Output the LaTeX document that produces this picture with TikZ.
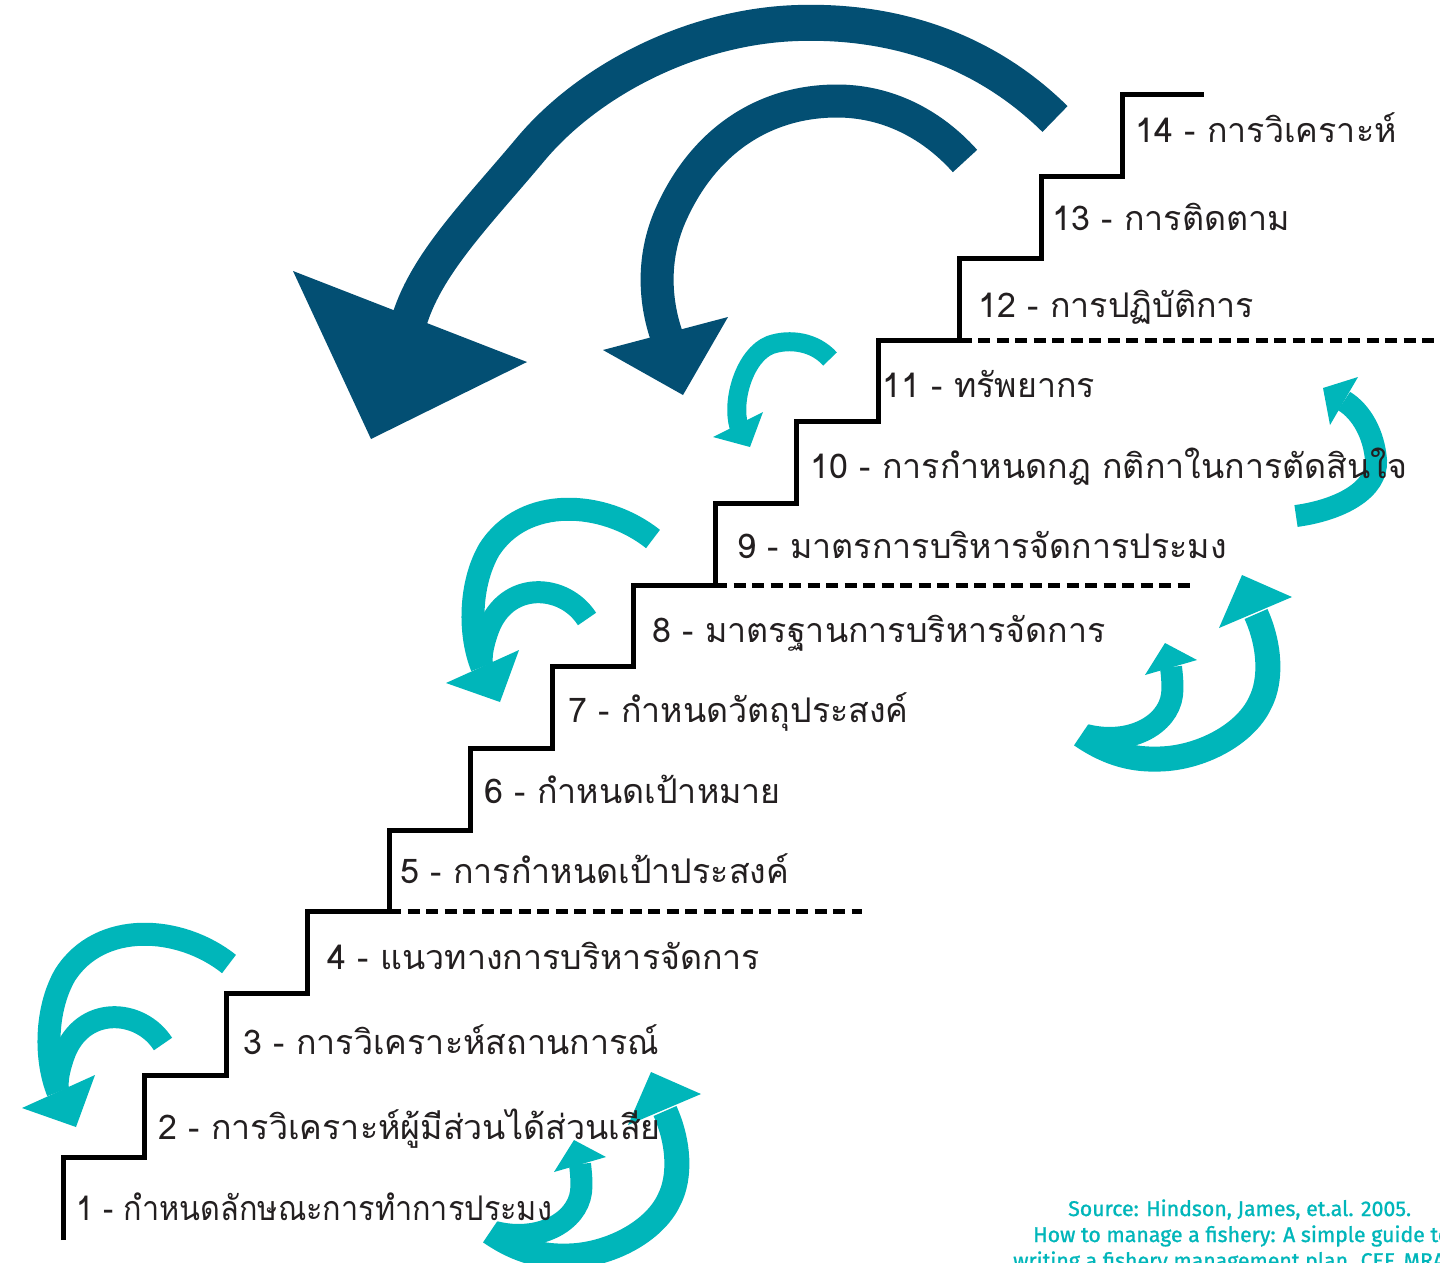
\documentclass[tikz,border=0pt]{standalone}
\usepackage{fontspec}
\newfontfamily\thaifont[Script=Thai]{Loma}
\newfontfamily\srcfont[FakeBold=1]{Fira Sans}
\definecolor{navyarrow}{HTML}{034F73}
\definecolor{tealarrow}{HTML}{00B6BA}
\definecolor{labeltext}{HTML}{231F20}
\tikzset{
  stair/.style={line width=5pt, black, line join=miter},
  dashline/.style={line width=5pt, black, dash pattern=on 12pt off 6.5pt},
  navyshaft/.style={draw=navyarrow, line width=#1},
  tealshaft/.style={draw=tealarrow, line width=#1},
  steplabel/.style={anchor=base west, inner sep=0pt, text=labeltext, font=\thaifont\fontsize{34}{40}\selectfont},
  srctext/.style={anchor=base west, inner sep=0pt, text=tealarrow, font=\srcfont\fontsize{21.3}{26}\selectfont},
}
\newcommand\LeftPairArrows{%
  \draw[tealshaft=23pt] (229,964) .. controls (180,925) and (100,920) .. (65,975) .. controls (45,1010) and (45,1060) .. (58,1092);
  \draw[tealshaft=22pt] (163,1044) .. controls (140,1008) and (82,1005) .. (64,1055) .. controls (58,1072) and (57,1082) .. (58,1090);
  \fill[tealarrow] (22,1108) -- (95,1075) -- (76,1127) -- cycle;
}
\newcommand\RightPairArrows{%
  \draw[tealshaft=25pt] (1081,735) .. controls (1110,755) and (1135,760) .. (1160,759) .. controls (1200,758) and (1245,735) .. (1260,703) .. controls (1272,680) and (1270,645) .. (1256,614);
  \draw[tealshaft=22pt] (1086,735) .. controls (1130,746) and (1168,725) .. (1172,695) .. controls (1173,685) and (1172,676) .. (1171,667);
  \fill[tealarrow] (1242,575) -- (1292,597) -- (1219,628) -- cycle;
  \fill[tealarrow] (1165,643) -- (1197,660) -- (1145,675) -- cycle;
}
\begin{document}
\begin{tikzpicture}[x=1pt, y=-1pt]
\useasboundingbox (0,0) rectangle (1440,1262);
\clip (0,0) rectangle (1440,1262);
\fill[white] (0,0) rectangle (1440,1262);

% navy arrows
\draw[navyshaft=36pt] (1055,119) .. controls (985,50) and (895,20) .. (798,23) .. controls (695,26) and (590,78) .. (530,150) .. controls (478,212) and (428,262) .. (410,318);
\fill[navyarrow] (293,271) -- (527,362) -- (371,439) -- cycle;
\draw[navyshaft=33pt] (965,161) .. controls (930,122) and (885,101) .. (837,101) .. controls (765,101) and (705,140) .. (672,212) .. controls (652,255) and (654,300) .. (667,337);
\fill[navyarrow] (603,350) -- (728,317) -- (683,395) -- cycle;

% small teal arrow
\draw[tealshaft=19pt] (830,359) .. controls (815,342) and (790,338) .. (770,345) .. controls (745,355) and (731,400) .. (739,427);
\fill[tealarrow] (713,437) -- (763,412) -- (750,447) -- cycle;

% top-right teal arrow
\draw[tealshaft=22pt] (1296,516) .. controls (1340,510) and (1378,490) .. (1376,460) .. controls (1374,435) and (1362,412) .. (1344,401);
\fill[tealarrow] (1323,388) -- (1358,377) -- (1330,425) -- cycle;

% teal pairs
\LeftPairArrows
\begin{scope}[shift={(424,-425)}]\LeftPairArrows\end{scope}
\RightPairArrows
\begin{scope}[shift={(-591,497)}]\RightPairArrows\end{scope}

% staircase
\draw[stair] (63,1240) -- (63,1157) -- (144.5,1157) -- (144.5,1075.3) -- (226,1075.3) -- (226,993.6) -- (307.5,993.6) -- (307.5,911.9) -- (389,911.9) -- (389,830.2) -- (470.5,830.2) -- (470.5,748.5) -- (552,748.5) -- (552,666.8) -- (633.5,666.8) -- (633.5,585.1) -- (715,585.1) -- (715,503.4) -- (796.5,503.4) -- (796.5,421.7) -- (878,421.7) -- (878,340) -- (959.5,340) -- (959.5,258.3) -- (1041,258.3) -- (1041,176.6) -- (1122.5,176.6) -- (1122.5,94.9) -- (1204,94.9);
\draw[dashline] (389,911.9) -- (862,911.9);
\draw[dashline] (715,585.1) -- (1190,585.1);
\draw[dashline] (959.5,340) -- (1440,340);

% labels
\node[steplabel] (l1) at (76,1220) {\scalebox{0.9}[1]{1 - กำหนดลักษณะการทำการประมง}};
\node[steplabel] (l2) at (158,1139) {2 - การวิเคราะห์ผู้มีส่วนได้ส่วนเสีย};
\node[steplabel] (l3) at (243,1054) {3 - การวิเคราะห์สถานการณ์};
\node[steplabel] (l4) at (327,969) {4 - แนวทางการบริหารจัดการ};
\node[steplabel] (l5) at (400,883) {5 - การกำหนดเป้าประสงค์};
\node[steplabel] (l6) at (484,803) {6 - กำหนดเป้าหมาย};
\node[steplabel] (l7) at (568,722) {7 - กำหนดวัตถุประสงค์};
\node[steplabel] (l8) at (652,642) {8 - มาตรฐานการบริหารจัดการ};
\node[steplabel] (l9) at (737,558) {9 - มาตรการบริหารจัดการประมง};
\node[steplabel] (l10) at (810,478) {10 - การกำหนดกฎ กติกาในการตัดสินใจ};
\node[steplabel] (l11) at (882,397) {11 - ทรัพยากร};
\node[steplabel] (l12) at (978,317) {12 - การปฏิบัติการ};
\node[steplabel] (l13) at (1052,230) {13 - การติดตาม};
\node[steplabel] (l14) at (1135,142) {14 - การวิเคราะห์};

% source
\node[srctext] (src1) at (1068,1216) {Source: Hindson, James, et.al. 2005.};
\node[srctext] (src2) at (1033,1242) {How to manage a fishery: A simple guide to};
\node[srctext] (src3) at (1013,1268) {writing a fishery management plan. CEF, MRAG};
\end{tikzpicture}
\end{document}
